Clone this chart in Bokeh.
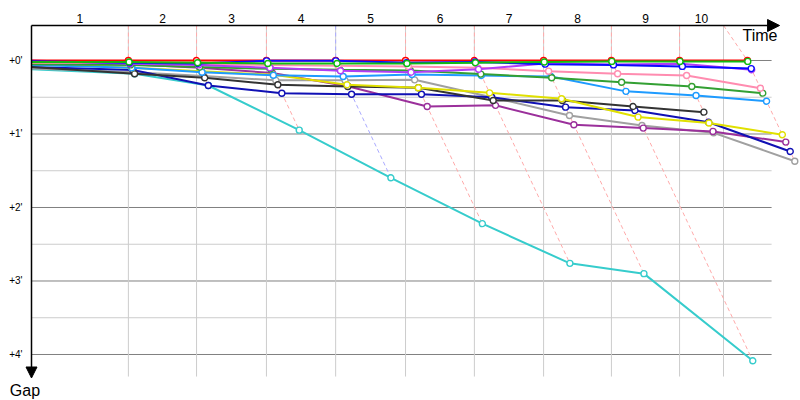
from bokeh.plotting import figure
from bokeh.models import Range1d, Arrow, NormalHead
from bokeh.core.properties import value
from bokeh.embed import file_html
from bokeh.resources import INLINE

# ---------------- data ----------------
lap_labels = ["1", "2", "3", "4", "5", "6", "7", "8", "9", "10"]
# leader crossing time of each lap (minutes)
lap_times = [2.80, 4.77, 6.79, 8.79, 10.81, 12.80, 14.80, 16.76, 18.73, 20.69]
# vertical grid lines (lap boundaries)
grid_times = [2.80, 4.77, 6.79, 8.79, 10.81, 12.80, 14.80, 16.76, 18.73, 20.00]
gap_ticks = [0, 1, 2, 3, 4]
gap_labels = ["+0'", "+1'", "+2'", "+3'", "+4'"]
gap_minor = [0.5, 1.5, 2.5, 3.5]

# gaps in minutes: start, then lap 1 .. lap 10 (None = no crossing)
cyan_gaps = [0.12, 0.18, 0.34, 0.948, 1.596, 2.22, 2.76, 2.90, 4.086, None, None]
gray_gaps = [0.11, 0.16, 0.21, 0.27, 0.27, 0.263, 0.50, 0.748, 0.884, 0.984, 1.37]
purple_gaps = [0.02, 0.05, 0.10, 0.17, 0.35, 0.626, 0.61, 0.875, 0.92, 0.965, 1.11]
darkblue_gaps = [0.09, 0.13, 0.34, 0.445, 0.46, 0.46, 0.50, 0.635, 0.68, 0.84, 1.238]
black_gaps = [0.09, 0.18, 0.235, 0.33, 0.354, 0.37, 0.544, 0.544, 0.626, 0.703, None]
yellow_gaps = [0.04, 0.10, 0.145, 0.195, 0.33, 0.37, 0.44, 0.52, 0.77, 0.85, 1.01]
lightblue_gaps = [0.06, 0.10, 0.16, 0.20, 0.218, 0.19, 0.204, 0.218, 0.42, 0.476, 0.554]
darkgreen_gaps = [0.05, 0.06, 0.09, 0.113, 0.127, 0.136, 0.185, 0.235, 0.295, 0.354, 0.444]
pink_gaps = [0.03, 0.03, 0.05, 0.06, 0.07, 0.08, 0.10, 0.145, 0.18, 0.204, 0.377]
violet_gaps = [0.00, 0.045, 0.06, 0.10, 0.14, 0.16, 0.12, 0.04, 0.055, 0.045, 0.125]
red_gaps = [0.00, 0.00, 0.00, 0.00, 0.00, 0.00, 0.00, 0.00, 0.00, 0.00, 0.00]
blue_gaps = [0.01, 0.03, 0.04, 0.005, 0.005, 0.03, 0.02, 0.05, 0.06, 0.08, 0.11]
green_gaps = [0.02, 0.02, 0.03, 0.04, 0.04, 0.04, 0.03, 0.02, 0.012, 0.012, 0.012]

riders = [cyan_gaps, gray_gaps, purple_gaps, darkblue_gaps, black_gaps, yellow_gaps,
          lightblue_gaps, darkgreen_gaps, pink_gaps, violet_gaps, red_gaps, blue_gaps, green_gaps]
rider_colors = ["#36cccc", "#a0a0a0", "#9b309b", "#1010b4", "#333333", "#e0e000",
                "#1e9bff", "#33a033", "#ff8cb0", "#b23cf5", "#ff0000", "#0a0aff", "#11bb11"]
dash_colors = ["#ffaaaa", "#ffaaaa", "#ffaaaa", "#aaaaff", "#ffaaaa",
               "#ffaaaa", "#ffaaaa", "#ffaaaa", "#ffaaaa", "#ffaaaa"]

# ---------------- layout constants ----------------
TOP = -0.476          # gap value of the top (time) axis
GRID_BOTTOM = 4.30
HGRID_END = 21.39
TIME_ARROW_END = 21.62
GAP_ARROW_END = 4.32
FONT = "Liberation Sans"

p = figure(width=800, height=400, output_backend="svg", toolbar_location=None,
           x_axis_location=None, y_axis_location=None, min_border=0,
           x_range=Range1d(-0.896, 22.225), y_range=Range1d(4.626, -0.8163))
p.grid.visible = False
p.outline_line_color = None
p.background_fill_color = "white"

# horizontal grid
p.segment(x0=[0] * len(gap_minor), x1=[HGRID_END] * len(gap_minor), y0=gap_minor, y1=gap_minor,
          line_color="#cccccc", line_width=1)
p.segment(x0=[0] * len(gap_ticks), x1=[HGRID_END] * len(gap_ticks), y0=gap_ticks, y1=gap_ticks,
          line_color="#808080", line_width=1)
# vertical grid
p.segment(x0=grid_times, x1=grid_times, y0=[TOP] * len(grid_times), y1=[GRID_BOTTOM] * len(grid_times),
          line_color="#cccccc", line_width=1)

# lap crossing dashed lines
dxs, dys = [], []
for i in range(len(lap_times)):
    lap_g = [r[i + 1] for r in riders if r[i + 1] is not None]
    gmax = max(lap_g)
    dxs.append([grid_times[i], lap_times[i], lap_times[i] + gmax])
    dys.append([TOP, 0, gmax])
p.multi_line(xs=dxs, ys=dys, line_color=dash_colors, line_width=1, line_dash="4 3")

# riders
for gaps, col in zip(riders, rider_colors):
    xs = [0.0]
    ys = [gaps[0]]
    px, py = [], []
    for i, g in enumerate(gaps[1:]):
        if g is None:
            continue
        xs.append(lap_times[i] + g)
        ys.append(g)
        px.append(lap_times[i] + g)
        py.append(g)
    p.line(xs, ys, line_color=col, line_width=2)
    p.scatter(px, py, size=6, marker="circle", fill_color="white", line_color=col, line_width=1.4)

# axes with arrows
p.add_layout(Arrow(end=NormalHead(size=12, fill_color="black", line_color="black"),
                   x_start=0, y_start=TOP, x_end=TIME_ARROW_END, y_end=TOP,
                   line_color="black", line_width=1.5))
p.add_layout(Arrow(end=NormalHead(size=11, fill_color="black", line_color="black"),
                   x_start=0, y_start=TOP, x_end=0, y_end=GAP_ARROW_END,
                   line_color="black", line_width=1.5))

# lap labels
starts = [0.0] + grid_times[:-1]
mids = [(a + b) / 2 for a, b in zip(starts, grid_times)]
p.text(x=mids, y=[-0.578] * len(mids), text=lap_labels, text_font=value(FONT),
       text_font_size="12px", text_align="center", text_baseline="middle", text_color="black")
# gap labels
p.text(x=[-0.26] * len(gap_ticks), y=gap_ticks, text=gap_labels, text_font=value(FONT),
       text_font_size="10px", text_align="right", text_baseline="middle", text_color="black")
# axis titles
p.text(x=[21.56], y=[-0.34], text=["Time"], text_font=value(FONT), text_font_size="16px",
       text_align="right", text_baseline="middle", text_color="black")
p.text(x=[-0.19], y=[4.49], text=["Gap"], text_font=value(FONT), text_font_size="16px",
       text_align="center", text_baseline="alphabetic", text_color="black")

open("out.html", "w").write(file_html(p, INLINE))
